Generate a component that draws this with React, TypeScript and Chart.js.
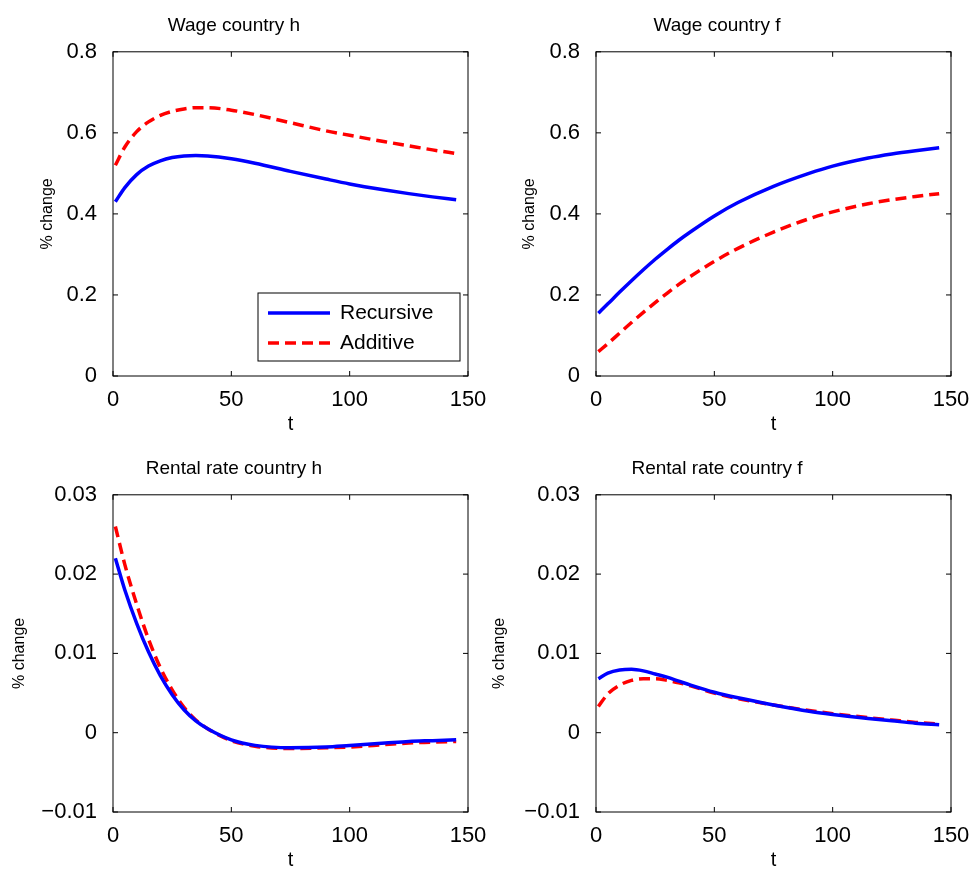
import { useEffect, useRef } from 'react'
import Chart from 'chart.js/auto'

const tValues = [1, 5, 10, 15, 20, 25, 30, 35, 40, 50, 60, 75, 90, 100, 115, 125, 135, 145]

// Wage country h
const wageHRecursive = [0.43, 0.465, 0.497, 0.518, 0.531, 0.539, 0.543, 0.544, 0.543, 0.536, 0.525, 0.505, 0.486, 0.474, 0.459, 0.45, 0.442, 0.435]
const wageHAdditive = [0.52, 0.565, 0.603, 0.627, 0.643, 0.653, 0.659, 0.662, 0.662, 0.656, 0.645, 0.625, 0.605, 0.594, 0.578, 0.568, 0.558, 0.549]
// Wage country f
const wageFRecursive = [0.155, 0.178, 0.207, 0.235, 0.262, 0.288, 0.312, 0.335, 0.356, 0.395, 0.428, 0.468, 0.5, 0.518, 0.538, 0.548, 0.556, 0.563]
const wageFAdditive = [0.06, 0.08, 0.106, 0.132, 0.157, 0.181, 0.204, 0.226, 0.246, 0.283, 0.315, 0.355, 0.388, 0.405, 0.425, 0.435, 0.443, 0.45]
// Rental rate country h
const rentHRecursive = [0.022, 0.018, 0.0138, 0.0102, 0.0072, 0.0048, 0.0029, 0.0015, 0.0005, -0.0009, -0.0016, -0.0019, -0.0018, -0.0016, -0.0013, -0.0011, -0.001, -0.0009]
const rentHAdditive = [0.026, 0.0212, 0.0162, 0.0118, 0.0082, 0.0054, 0.0032, 0.0016, 0.0005, -0.001, -0.0017, -0.002, -0.0019, -0.0018, -0.0015, -0.0013, -0.0012, -0.0011]
// Rental rate country f
const rentFRecursive = [0.0068, 0.0075, 0.0079, 0.008, 0.0078, 0.0074, 0.007, 0.0065, 0.006, 0.0051, 0.0044, 0.0035, 0.0027, 0.0023, 0.0018, 0.0015, 0.0012, 0.001]
const rentFAdditive = [0.0033, 0.0049, 0.006, 0.0066, 0.0068, 0.0068, 0.0066, 0.0063, 0.0059, 0.005, 0.0043, 0.0035, 0.0028, 0.0024, 0.0019, 0.0016, 0.0013, 0.0011]

const xTicks = [0, 50, 100, 150]
const wageTicks = [0, 0.2, 0.4, 0.6, 0.8]
const rentTicks = [-0.01, 0, 0.01, 0.02, 0.03]

const FONT = 'Helvetica, Arial, "Liberation Sans", sans-serif'

const fmt = (v: number) => {
  const s = String(Math.round(v * 1000) / 1000)
  return v < 0 ? '\u2212' + s.slice(1) : s
}

const boxPlugin = {
  id: 'matlabBox',
  afterDatasetsDraw(chart: any, _a: any, opts: any) {
    const { ctx, chartArea: a, scales } = chart
    ctx.save()
    ctx.strokeStyle = '#000'
    ctx.lineWidth = 1
    ctx.strokeRect(a.left, a.top, a.right - a.left, a.bottom - a.top)
    const L = 5
    ctx.beginPath()
    xTicks.forEach((v) => {
      const x = scales.x.getPixelForValue(v)
      ctx.moveTo(x, a.bottom); ctx.lineTo(x, a.bottom - L)
      ctx.moveTo(x, a.top); ctx.lineTo(x, a.top + L)
    })
    ;(opts.yTicks as number[]).forEach((v) => {
      const y = scales.y.getPixelForValue(v)
      ctx.moveTo(a.left, y); ctx.lineTo(a.left + L, y)
      ctx.moveTo(a.right, y); ctx.lineTo(a.right - L, y)
    })
    ctx.stroke()
    if (opts.legend) {
      const w = 202, h = 68
      const x0 = a.right - w - 8, y0 = a.bottom - h - 15
      ctx.fillStyle = '#fff'
      ctx.fillRect(x0, y0, w, h)
      ctx.strokeRect(x0, y0, w, h)
      ctx.font = '21px ' + FONT
      ctx.textBaseline = 'middle'
      ctx.lineWidth = 3.5
      const rows = [
        { label: 'Recursive', color: '#0000ff', dash: [] as number[] },
        { label: 'Additive', color: '#ff0000', dash: [11, 6] },
      ]
      rows.forEach((r, i) => {
        const y = y0 + 20 + i * 30
        ctx.strokeStyle = r.color
        ctx.setLineDash(r.dash)
        ctx.beginPath(); ctx.moveTo(x0 + 10, y); ctx.lineTo(x0 + 72, y); ctx.stroke()
        ctx.setLineDash([])
        ctx.fillStyle = '#000'
        ctx.fillText(r.label, x0 + 82, y)
      })
    }
    ctx.restore()
  },
}

interface PanelProps {
  title: string
  recursive: number[]
  additive: number[]
  yTicks: number[]
  left: number
  top: number
  yAxisWidth: number
  yTitlePad: number
  titlePadTop: number
  legend?: boolean
}

function Panel({ title, recursive, additive, yTicks, left, top, yAxisWidth, yTitlePad, titlePadTop, legend }: PanelProps) {
  const ref = useRef<HTMLCanvasElement>(null)
  useEffect(() => {
    if (!ref.current) return
    const chart = new Chart(ref.current, {
      type: 'line',
      data: {
        datasets: [
          { label: 'Recursive', data: tValues.map((t, i) => ({ x: t, y: recursive[i] })), borderColor: '#0000ff', borderWidth: 3.5, pointRadius: 0, cubicInterpolationMode: 'monotone' },
          { label: 'Additive', data: tValues.map((t, i) => ({ x: t, y: additive[i] })), borderColor: '#ff0000', borderWidth: 3.5, borderDash: [11, 6], pointRadius: 0, cubicInterpolationMode: 'monotone' },
        ],
      },
      options: {
        animation: false,
        responsive: false,
        layout: { padding: { left: 0, right: 40, top: 0, bottom: 0 } },
        plugins: {
          legend: { display: false },
          tooltip: { enabled: false },
          title: { display: true, text: title, color: '#000', font: { family: FONT, size: 19, weight: 'normal' }, padding: { top: titlePadTop, bottom: 15 } },
          matlabBox: { yTicks, legend: !!legend },
        } as any,
        scales: {
          x: {
            type: 'linear', min: 0, max: 150,
            grid: { display: false }, border: { display: false },
            afterBuildTicks: (s: any) => { s.ticks = xTicks.map((v) => ({ value: v })) },
            ticks: { color: '#000', font: { family: FONT, size: 22 }, maxRotation: 0, padding: 3 },
            title: { display: true, text: 't', color: '#000', font: { family: FONT, size: 20 }, padding: 0 },
            afterFit: (s: any) => { s.height = 60 },
          },
          y: {
            min: yTicks[0], max: yTicks[yTicks.length - 1],
            grid: { display: false }, border: { display: false },
            afterBuildTicks: (s: any) => { s.ticks = yTicks.map((v) => ({ value: v })) },
            ticks: { color: '#000', font: { family: FONT, size: 22 }, padding: 8, callback: (v: any) => fmt(Number(v)) },
            title: { display: true, text: '% change', color: '#000', font: { family: FONT, size: 16 }, padding: { top: yTitlePad, bottom: 0 } },
            afterFit: (s: any) => { s.width = yAxisWidth },
          },
        },
      },
      plugins: [boxPlugin],
    })
    return () => chart.destroy()
  }, [])
  return <canvas ref={ref} width={395 + yAxisWidth} height={436} style={{ position: 'absolute', left, top, width: 395 + yAxisWidth, height: 436 }} />
}

export default function App() {
  return (
    <div style={{ position: 'fixed', left: 0, top: 0, width: 974, height: 872, overflow: 'hidden', background: '#fff' }}>
      <Panel title="Wage country h" recursive={wageHRecursive} additive={wageHAdditive} yTicks={wageTicks} left={0} top={0} yAxisWidth={113} yTitlePad={38} titlePadTop={14} legend />
      <Panel title="Wage country f" recursive={wageFRecursive} additive={wageFAdditive} yTicks={wageTicks} left={483} top={0} yAxisWidth={113} yTitlePad={37} titlePadTop={14} />
      <Panel title="Rental rate country h" recursive={rentHRecursive} additive={rentHAdditive} yTicks={rentTicks} left={0} top={436} yAxisWidth={113} yTitlePad={10} titlePadTop={21} />
      <Panel title="Rental rate country f" recursive={rentFRecursive} additive={rentFAdditive} yTicks={rentTicks} left={483} top={436} yAxisWidth={113} yTitlePad={7} titlePadTop={21} />
    </div>
  )
}
